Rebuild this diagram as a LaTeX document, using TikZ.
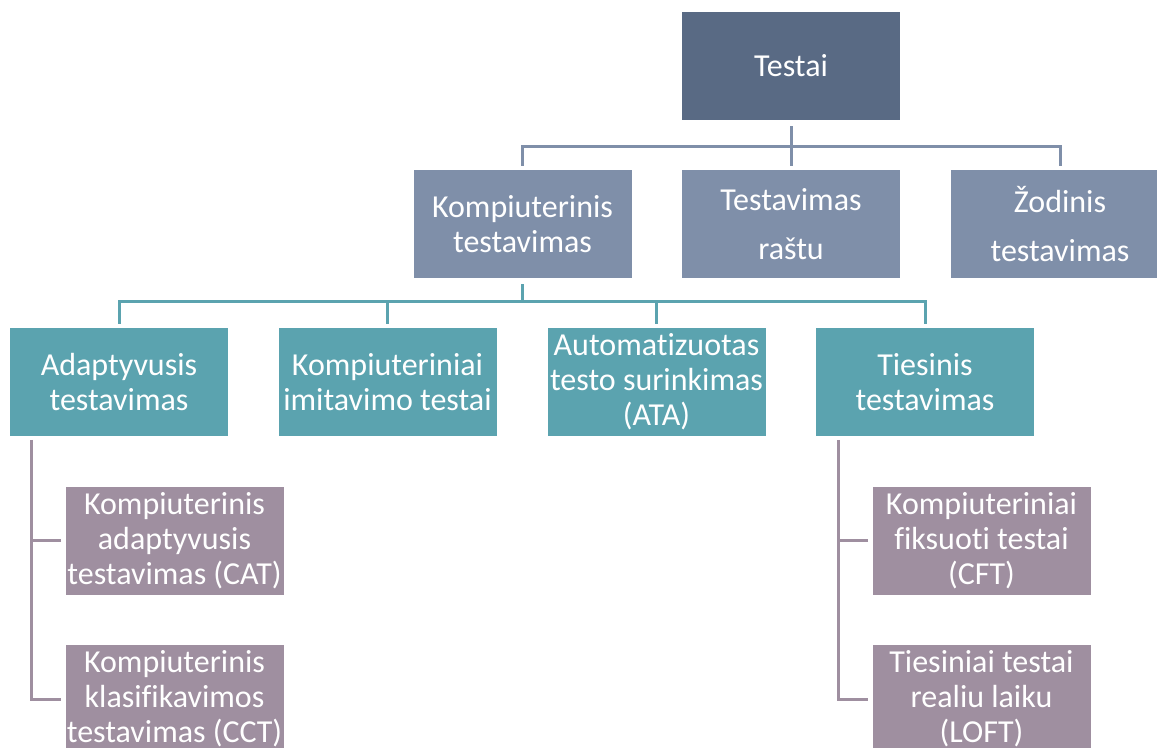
\documentclass[tikz,border=0pt]{standalone}
\usepackage{fontspec}
\setmainfont[Ligatures=NoCommon]{Carlito}
\definecolor{topc}{HTML}{596A84}
\definecolor{grayc}{HTML}{7F8FA9}
\definecolor{tealc}{HTML}{5BA3AF}
\definecolor{mauvec}{HTML}{9F8FA0}
\tikzset{
  box/.style={rectangle, minimum width=109pt, minimum height=54pt, inner sep=0pt,
    align=center, text=white, font=\fontsize{16}{17.5}\selectfont},
  wide/.style={font=\fontsize{16}{24.5}\selectfont},
  link/.style={line width=1.5pt}
}
\begin{document}
\begin{tikzpicture}[x=0.5pt, y=-0.5pt]
\useasboundingbox (0,0) rectangle (1157,748);
% top
\node[box, fill=topc] (t0) at (791,66){Testai};
\node[box, fill=grayc] (k1) at (522.5,224){Kompiuterinis\\testavimas};
\node[box, fill=grayc, wide] (k2) at (791,224){Testavimas\\raštu};
\node[box, fill=grayc, wide] (k3) at (1060,224){Žodinis\\testavimas};
% second row
\node[box, fill=tealc] (a1) at (119,382){Adaptyvusis\\testavimas};
\node[box, fill=tealc] (a2) at (387.5,382){Kompiuteriniai\\imitavimo testai};
\node[box, fill=tealc] (a3) at (656.5,382){Automatizuotas\\testo surinkimas\\(ATA)};
\node[box, fill=tealc] (a4) at (925,382){Tiesinis\\testavimas};
% leaves
\node[box, fill=mauvec] (c1) at (174.5,541){Kompiuterinis\\adaptyvusis\\testavimas (CAT)};
\node[box, fill=mauvec] (c2) at (174.5,699){Kompiuterinis\\klasifikavimos\\testavimas (CCT)};
\node[box, fill=mauvec] (c3) at (981.5,541){Kompiuteriniai\\fiksuoti testai\\(CFT)};
\node[box, fill=mauvec] (c4) at (981.5,699){Tiesiniai testai\\realiu laiku\\(LOFT)};
% connectors
\coordinate (b1) at (791,147);
\coordinate (b2) at (522.5,302);
\coordinate (v1) at (31,440);
\coordinate (v2) at (838,440);
\draw[link, grayc, shorten <=3pt] (t0.south) -- (b1);
\draw[link, grayc, shorten <=2pt, shorten >=2pt] (k1.north) |- (b1) -| (k3.north);
\draw[link, grayc, shorten <=2pt] (k2.north) -- (k2.north |- b1);
\draw[link, tealc, shorten <=3pt] (k1.south) -- (b2);
\draw[link, tealc, shorten <=2pt, shorten >=2pt] (a1.north) |- (b2) -| (a4.north);
\draw[link, tealc, shorten <=2pt] (a2.north) -- (a2.north |- b2);
\draw[link, tealc, shorten <=2pt] (a3.north) -- (a3.north |- b2);
\draw[link, mauvec, shorten >=2pt] (v1) |- (c2.west);
\draw[link, mauvec, shorten <=2pt] (c1.west) -- (c1.west -| v1);
\draw[link, mauvec, shorten >=2pt] (v2) |- (c4.west);
\draw[link, mauvec, shorten <=2pt] (c3.west) -- (c3.west -| v2);
\end{tikzpicture}
\end{document}
